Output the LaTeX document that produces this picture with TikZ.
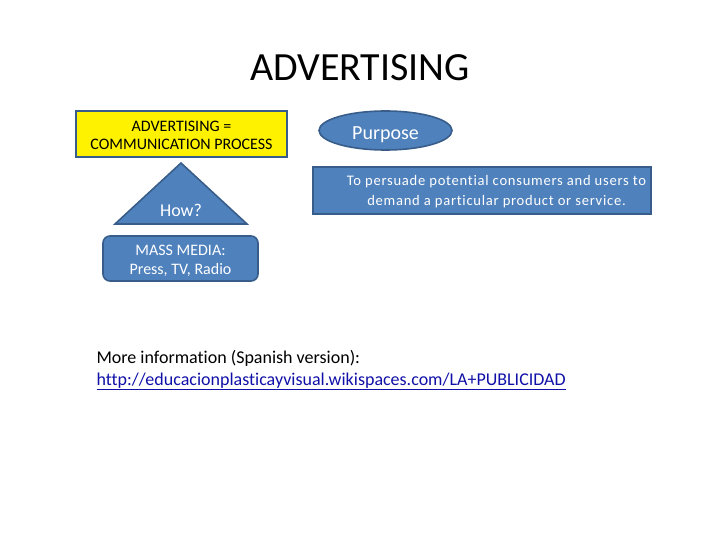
\documentclass[tikz,border=0pt]{standalone}
\usepackage{fontspec}
\setmainfont[RawFeature=-liga]{Carlito}
\newfontfamily\spaced[LetterSpace=5,RawFeature=-liga]{Carlito}
\usetikzlibrary{shapes.geometric}
\definecolor{bfill}{HTML}{4F81BD}
\definecolor{bline}{HTML}{385D8A}
\definecolor{linkc}{HTML}{1010A8}
\tikzset{
  blueshape/.style={fill=bfill,draw=bline,line width=1.6pt},
  wtext/.style={text=white,align=center,font=\fontsize{16}{19}\selectfont},
}
\begin{document}
\begin{tikzpicture}[x=1pt,y=-1pt]
\useasboundingbox (0,0) rectangle (720,540);
\node (title) at (360,68) {\fontsize{40}{44}\selectfont ADVERTISING};
\node[draw=bline,fill=yellow,line width=1.6pt,minimum width=211pt,minimum height=46pt] (def) at (181.5,134) {};
\node[align=center,font=\fontsize{16}{18.5}\selectfont] (deftext) at (181.5,135.5) {ADVERTISING =\\COMMUNICATION PROCESS};
\draw[blueshape] (181,163) -- (247,224) -- (115,224) -- cycle;
\node[wtext,font=\fontsize{18}{20}\selectfont] (how) at (181,210) {How?};
\node[blueshape,rounded corners=7pt,minimum width=155pt,minimum height=45pt] (media) at (180.5,258.5) {};
\node[wtext] (mediatext) at (180.5,260.5) {MASS MEDIA:\\Press, TV, Radio};
\node[blueshape,ellipse,minimum width=133pt,minimum height=39pt,inner sep=0pt] (purpose) at (385.5,130.5) {};
\node[text=white,font=\fontsize{20}{22}\selectfont] (purposetext) at (385.5,134.5) {Purpose};
\node[blueshape,minimum width=338pt,minimum height=47pt] (goal) at (482,190.5) {};
\node[text=white,align=center,font=\spaced\fontsize{14.6}{20}\selectfont] (goaltext) at (496.5,192) {To persuade potential consumers and users to\\demand a particular product or service.};
\node[anchor=west,font=\fontsize{18}{23}\selectfont] (more) at (93,358.5) {More information (Spanish version):};
\node[anchor=west,font=\fontsize{18}{23}\selectfont,text=linkc] (url) at (93,381.5) {\underline{http://educacionplasticayvisual.wikispaces.com/LA+PUBLICIDAD}};
\end{tikzpicture}
\end{document}
